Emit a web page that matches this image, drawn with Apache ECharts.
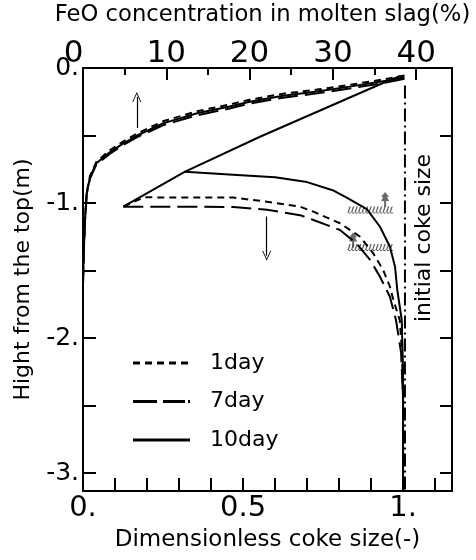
<!DOCTYPE html>
<html><head><meta charset="utf-8">
<script src="https://cdn.jsdelivr.net/npm/echarts@6/dist/echarts.min.js"></script>
<style>html,body{margin:0;padding:0;background:#fff}#c{width:476px;height:560px}</style>
</head><body><div id="c"></div>
<script>
// ---- data (x, height from top in m) ----
const legendNames = ['1day', '7day', '10day'];

// dimensionless coke size profiles (bottom axis)
const coke1day = [[0.126,-1.027],[0.19,-0.958],[0.47,-0.96],[0.575,-0.99],[0.678,-1.027],[0.72,-1.064],[0.803,-1.15],[0.866,-1.25],[0.907,-1.373],[0.938,-1.496],[0.959,-1.62],[0.970,-1.72],[0.99,-1.87],[0.997,-2.11],[1.0,-2.46],[1.0,-3.13]];
const coke7day = [[0.126,-1.027],[0.3,-1.027],[0.47,-1.03],[0.575,-1.05],[0.678,-1.09],[0.72,-1.126],[0.803,-1.2],[0.855,-1.3],[0.897,-1.422],[0.928,-1.546],[0.959,-1.694],[0.978,-1.867],[0.994,-2.11],[1.0,-2.46],[1.0,-3.13]];
const coke10day = [[0.319,-0.768],[0.469,-0.79],[0.6,-0.81],[0.7,-0.845],[0.78,-0.905],[0.824,-0.96],[0.887,-1.045],[0.928,-1.176],[0.959,-1.324],[0.975,-1.472],[0.982,-1.644],[0.996,-1.867],[1.0,-2.237],[1.0,-3.13]];
const cokeConnector = [[0.126,-1.027],[0.319,-0.768],[0.553,-0.509],[0.9375,-0.111],[0.99,-0.06]];

// FeO concentration profiles (top axis, %)
const feo1day = [[38.6,-0.055],[36.0,-0.085],[32.0,-0.125],[28.1,-0.16],[24.0,-0.19],[20.0,-0.235],[17.6,-0.27],[13.7,-0.32],[9.6,-0.395],[6.5,-0.485],[4.8,-0.545],[3.2,-0.61],[1.6,-0.695],[0.84,-0.80],[0.44,-0.925],[0.24,-1.12],[0.1,-1.35],[0.0,-1.6]];
const feo7day = [[38.6,-0.08],[36.0,-0.112],[32.0,-0.152],[28.1,-0.188],[24.0,-0.22],[20.0,-0.264],[17.6,-0.3],[13.7,-0.35],[9.6,-0.424],[6.5,-0.512],[4.8,-0.572],[3.2,-0.636],[1.6,-0.715],[0.84,-0.82],[0.44,-0.935],[0.24,-1.13],[0.1,-1.35],[0.0,-1.6]];
const feo10day = [[38.6,-0.068],[36.0,-0.098],[32.0,-0.138],[28.1,-0.174],[24.0,-0.205],[20.0,-0.25],[17.6,-0.285],[13.7,-0.335],[9.6,-0.41],[6.5,-0.50],[4.8,-0.56],[3.2,-0.625],[1.6,-0.705],[0.84,-0.81],[0.44,-0.93],[0.24,-1.125],[0.1,-1.35],[0.0,-1.6]];

const initialCokeSize = [[1.006,-0.13],[1.006,-3.133]];
const hatchMarks = [[0.897,-1.052],[0.897,-1.33]];
const treeMarks = [[0.944,-0.974],[0.844,-1.274]];
const upArrow = [[0.168,-0.444],[0.168,-0.215]];
const downArrow = [[0.574,-1.10],[0.574,-1.39]];

const xBottomTicks = {0: '0.', 0.5: '0.5', 1: '1.'};
const yTickLabels = {0: '0.', 1: '-1.', 2: '-2.', 3: '-3.'};

// ---- chart ----
const FONT = "'DejaVu Sans', 'Liberation Sans', Arial, sans-serif";
const depth = pts => pts.map(p => [p[0], -p[1]]);
const Y_MAX = 3.133, X_MAX = 1.153, FEO_MAX = 44.3;

let hatch = 'path://M0,6 L46,6 L46,7 L0,7 Z';
for (let i = 0; i < 13; i++) {
  const x = i * 3.5;
  hatch += ` M${x},7 L${x+1.3},7 L${x+3.7},0 L${x+2.4},0 Z`;
}
const tree = 'path://M4,0 L8,5 L6,5 L8,9 L5,9 L5,15 L3,15 L3,9 L0,9 L2,5 L0,5 Z';
const chevron = 'path://M0,10 L5,0 L10,10 L9,10 L5,2 L1,10 Z';
const legendIcons = {
  '1day': 'path://M0,0 L7,0 L7,3 L0,3 Z M12,0 L19,0 L19,3 L12,3 Z M24,0 L31,0 L31,3 L24,3 Z M36,0 L43,0 L43,3 L36,3 Z M48,0 L55,0 L55,3 L48,3 Z M56.9,0 L57,0 L57,3 L56.9,3 Z',
  '7day': 'path://M0,0 L24,0 L24,3 L0,3 Z M30,0 L52,0 L52,3 L30,3 Z M55,0 L57,0 L57,3 L55,3 Z',
  '10day': 'path://M0,0 L57,0 L57,3 L0,3 Z'
};

const tickStyle = {color: '#000', width: 2};
const axisLine = {onZero: false, lineStyle: {color: '#000', width: 2}};

const chart = echarts.init(document.getElementById('c'), null, {renderer: 'canvas'});
chart.setOption({
  animation: false,
  backgroundColor: '#fff',
  textStyle: {fontFamily: FONT, color: '#000'},
  grid: {left: 83, right: 24, top: 68, bottom: 69, containLabel: false, outerBoundsMode: 'none'},
  legend: {
    data: legendNames.map(n => ({name: n, icon: legendIcons[n]})),
    orient: 'vertical', left: 133, top: 350,
    itemWidth: 57, itemHeight: 3, itemGap: 12.5, padding: 0, symbolKeepAspect: false,
    textStyle: {fontFamily: FONT, fontSize: 22, lineHeight: 26, color: '#000', padding: [0, 0, 0, 15]},
    selectedMode: false
  },
  xAxis: [
    {type: 'value', position: 'bottom', min: 0, max: X_MAX, interval: 0.1,
     axisLine: axisLine, splitLine: {show: false},
     axisTick: {inside: true, length: 13, lineStyle: tickStyle},
     axisLabel: {fontFamily: FONT, fontSize: 29, color: '#000', margin: 3,
       formatter: v => { const r = Math.round(v * 100) / 100; return xBottomTicks[r] !== undefined ? xBottomTicks[r] : ''; }},
     name: 'Dimensionless coke size(-)', nameLocation: 'middle', nameGap: 38, nameMoveOverlap: false,
     nameTextStyle: {fontFamily: FONT, fontSize: 23, color: '#000'}},
    {type: 'value', position: 'top', min: 0, max: FEO_MAX, interval: 10,
     axisLine: axisLine, splitLine: {show: false},
     axisTick: {inside: true, length: 12, lineStyle: tickStyle},
     axisLabel: {fontFamily: FONT, fontSize: 31, color: '#000', margin: -1,
       formatter: v => { const r = Math.round(v); if (Math.abs(v - r) > 1e-6 || r > 40) return ''; return r === 0 ? '{z|0}' : String(r); },
       rich: {z: {fontFamily: FONT, fontSize: 31, color: '#000', padding: [0, 19, 0, 0]}}},
     name: 'FeO concentration in molten slag(%)', nameLocation: 'middle', nameGap: 41, nameMoveOverlap: false,
     nameTextStyle: {fontFamily: FONT, fontSize: 22.7, color: '#000', padding: [0, 10, 0, 0]}},
    {type: 'value', position: 'top', min: 0, max: FEO_MAX, interval: 5,
     axisLine: {show: false, onZero: false}, splitLine: {show: false}, axisLabel: {show: false},
     axisTick: {inside: true, length: 7, lineStyle: tickStyle}}
  ],
  yAxis: [
    {type: 'value', position: 'left', inverse: true, min: 0, max: Y_MAX, interval: 0.5,
     axisLine: axisLine, splitLine: {show: false},
     axisTick: {inside: true, length: 13, lineStyle: tickStyle},
     axisLabel: {fontFamily: FONT, fontSize: 25, color: '#000', margin: 4,
       formatter: v => { const r = Math.round(v); if (Math.abs(v - r) > 1e-6 || r > 3) return ''; return yTickLabels[r]; }},
     name: 'Hight from the top(m)', nameLocation: 'middle', nameGap: 49, nameMoveOverlap: false,
     nameTextStyle: {fontFamily: FONT, fontSize: 22, color: '#000'}},
    {type: 'value', position: 'right', inverse: true, min: 0, max: Y_MAX, interval: 0.5,
     axisLine: axisLine, splitLine: {show: false},
     axisTick: {inside: true, length: 12, lineStyle: tickStyle}, axisLabel: {show: false}}
  ],
  series: [
    {type: 'line', name: 'connector', data: depth(cokeConnector), symbol: 'none', silent: true,
     lineStyle: {color: '#000', width: 2},
     markLine: {silent: true, symbol: ['none', chevron], symbolSize: [9, 10], label: {show: false},
       lineStyle: {color: '#000', width: 1.2, type: 'solid'},
       data: [
         [{coord: depth(upArrow)[0]}, {coord: depth(upArrow)[1]}],
         [{coord: depth(downArrow)[0]}, {coord: depth(downArrow)[1]}]
       ]}},
    {type: 'line', name: '1day', data: depth(coke1day), symbol: 'none', silent: true,
     lineStyle: {color: '#000', width: 2, type: [7, 5]}, itemStyle: {color: '#000'}},
    {type: 'line', name: '7day', data: depth(coke7day), symbol: 'none', silent: true,
     lineStyle: {color: '#000', width: 2, type: [20, 7]}, itemStyle: {color: '#000'}},
    {type: 'line', name: '10day', data: depth(coke10day), symbol: 'none', silent: true,
     lineStyle: {color: '#000', width: 2}, itemStyle: {color: '#000'}},
    {type: 'line', name: 'FeO 1day', xAxisIndex: 1, data: depth(feo1day), symbol: 'none', silent: true,
     lineStyle: {color: '#000', width: 2, type: [7, 5]}},
    {type: 'line', name: 'FeO 7day', xAxisIndex: 1, data: depth(feo7day), symbol: 'none', silent: true,
     lineStyle: {color: '#000', width: 2, type: [20, 7]}},
    {type: 'line', name: 'FeO 10day', xAxisIndex: 1, data: depth(feo10day), symbol: 'none', silent: true,
     lineStyle: {color: '#000', width: 2}},
    {type: 'line', name: 'initial coke size', data: depth(initialCokeSize), symbol: 'none', silent: true,
     lineStyle: {color: '#000', width: 2, type: [13, 4, 2, 4]}},
    {type: 'scatter', name: 'hatch', data: depth(hatchMarks), symbol: hatch, symbolSize: [46, 7], silent: true,
     itemStyle: {color: '#333'}},
    {type: 'scatter', name: 'tree', data: depth(treeMarks), symbol: tree, symbolSize: [8, 15], silent: true,
     itemStyle: {color: '#444'}}
  ],
  graphic: [
    {type: 'text', x: 424, y: 238, rotation: Math.PI / 2, silent: true,
     style: {text: 'initial coke size', fontFamily: FONT, fontSize: 22, fill: '#000', align: 'center', verticalAlign: 'middle'}}
  ]
});
</script>
</body></html>
